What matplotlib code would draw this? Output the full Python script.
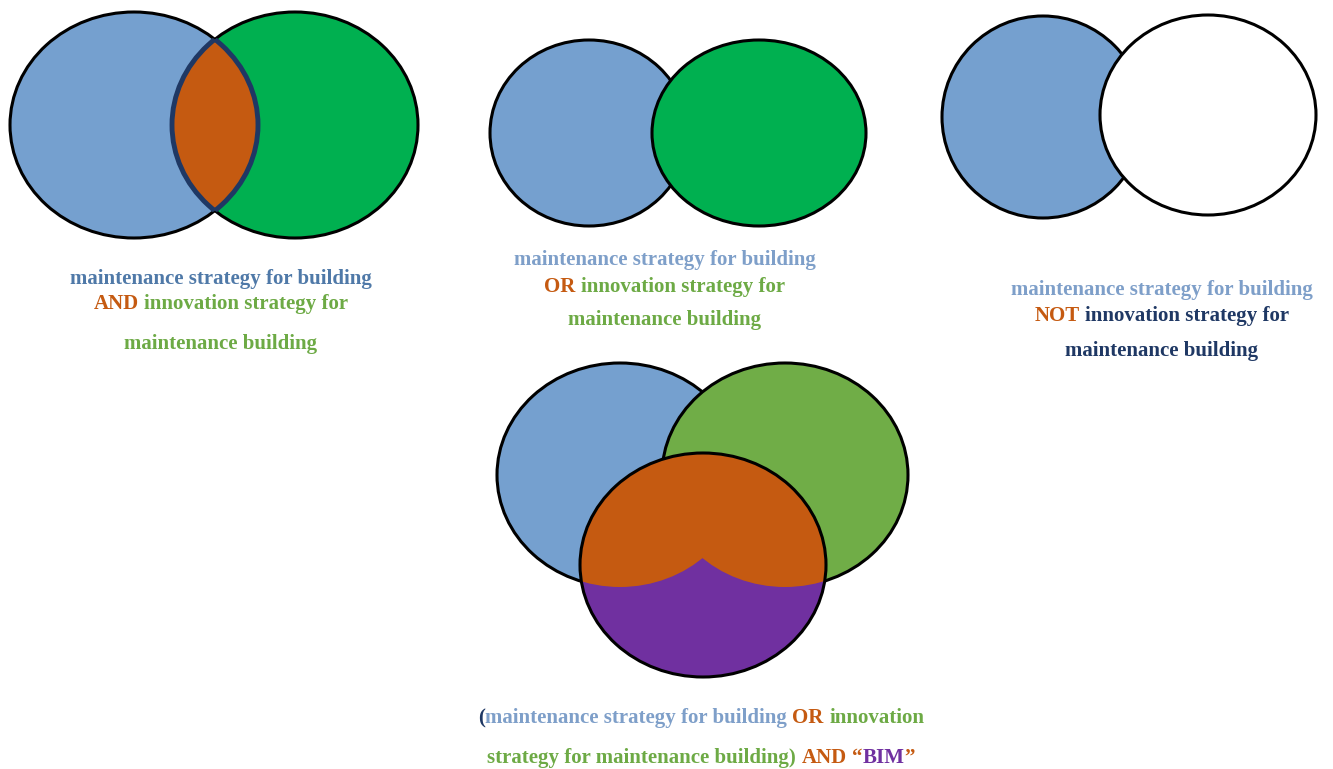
import matplotlib
matplotlib.use("Agg")
import matplotlib.pyplot as plt
from matplotlib.patches import Ellipse
from matplotlib.offsetbox import TextArea, HPacker, AnnotationBbox

# colours
BLUE = "#75A0CF"
GREEN = "#00B050"
GREEN2 = "#70AD47"
ORANGE = "#C55A11"
PURPLE = "#7030A0"
NAVY = "#1F3864"
TXT_BLUE = "#4F79A8"
TXT_LBLUE = "#7E9FC9"
TXT_GREEN = "#6DAA45"

# label text (pieces of each line with their colours)
and_lines = [
    [("maintenance strategy for building", TXT_BLUE)],
    [("AND", ORANGE), ("innovation strategy for", TXT_GREEN)],
    [("maintenance building", TXT_GREEN)],
]
or_lines = [
    [("maintenance strategy for building", TXT_LBLUE)],
    [("OR", ORANGE), ("innovation strategy for", TXT_GREEN)],
    [("maintenance building", TXT_GREEN)],
]
not_lines = [
    [("maintenance strategy for building", TXT_LBLUE)],
    [("NOT", ORANGE), ("innovation strategy for", NAVY)],
    [("maintenance building", NAVY)],
]
bim_lines = [
    [("(", NAVY), ("maintenance strategy for building", TXT_LBLUE),
     ("OR", ORANGE), ("innovation", TXT_GREEN)],
    [("strategy for maintenance building)", TXT_GREEN), ("AND", ORANGE),
     ("\u201c", ORANGE), ("BIM", PURPLE), ("\u201d", ORANGE)],
]

fig = plt.figure(figsize=(13.33, 7.69), dpi=100)
ax = fig.add_axes([0, 0, 1, 1])
ax.set_xlim(0, 1333)
ax.set_ylim(769, 0)
ax.axis("off")

LW = 2.2
GLUE_NEXT = {"(", "\u201c"}
GLUE_PREV = {"\u201d"}


def ell(cx, cy, w, h, **kw):
    p = Ellipse((cx, cy), w, h, **kw)
    ax.add_patch(p)
    return p


def label(lines, x, ys, size=15):
    for pieces, y in zip(lines, ys):
        # group pieces that must sit without a space between them
        groups = []
        glue = False
        for txt, col in pieces:
            if groups and (glue or txt in GLUE_PREV):
                groups[-1].append((txt, col))
            else:
                groups.append([(txt, col)])
            glue = txt in GLUE_NEXT
        kids = []
        for g in groups:
            areas = [TextArea(t, textprops=dict(color=c, fontsize=size,
                                                 fontweight="bold",
                                                 family="Liberation Serif"))
                     for t, c in g]
            if len(areas) == 1:
                kids.append(areas[0])
            else:
                kids.append(HPacker(children=areas, sep=0, pad=0, align="baseline"))
        box = HPacker(children=kids, sep=4, pad=0, align="baseline")
        ab = AnnotationBbox(box, (x, y), frameon=False, box_alignment=(0.5, 0.5),
                            pad=0)
        ax.add_artist(ab)


# --- AND diagram
a1 = ell(134, 125, 248, 226, fc=BLUE, ec="black", lw=LW, zorder=1)
a2 = ell(295, 125, 246, 226, fc=GREEN, ec="black", lw=LW, zorder=2)
lens = ell(295, 125, 246, 226, fc=ORANGE, ec=NAVY, lw=LW * 1.6, zorder=3)
lens.set_clip_path(a1)
arc = ell(134, 125, 248, 226, fc="none", ec=NAVY, lw=LW * 1.6, zorder=4)
arc.set_clip_path(a2)
label(and_lines, 221, [279, 304, 344])

# --- OR diagram
ell(589, 133, 198, 186, fc=BLUE, ec="black", lw=LW, zorder=1)
ell(759, 133, 214, 186, fc=GREEN, ec="black", lw=LW, zorder=2)
label(or_lines, 665, [260, 287, 320])

# --- NOT diagram
ell(1043, 117, 202, 202, fc=BLUE, ec="black", lw=LW, zorder=1)
ell(1208, 115, 216, 200, fc="white", ec="black", lw=LW, zorder=2)
label(not_lines, 1162, [290, 316, 351])

# --- (A OR B) AND BIM
ell(620, 475, 246, 224, fc=BLUE, ec="black", lw=LW, zorder=1)
ell(785, 475, 246, 224, fc=GREEN2, ec="black", lw=LW, zorder=2)
c3 = ell(703, 565, 246, 224, fc=PURPLE, ec="none", zorder=3)
o1 = ell(620, 475, 246, 224, fc=ORANGE, ec="none", zorder=4)
o1.set_clip_path(c3)
o2 = ell(785, 475, 246, 224, fc=ORANGE, ec="none", zorder=4)
o2.set_clip_path(c3)
ell(703, 565, 246, 224, fc="none", ec="black", lw=LW, zorder=5)
label(bim_lines, 701, [718, 758])

fig.savefig("out.png", dpi=100, facecolor="white")
